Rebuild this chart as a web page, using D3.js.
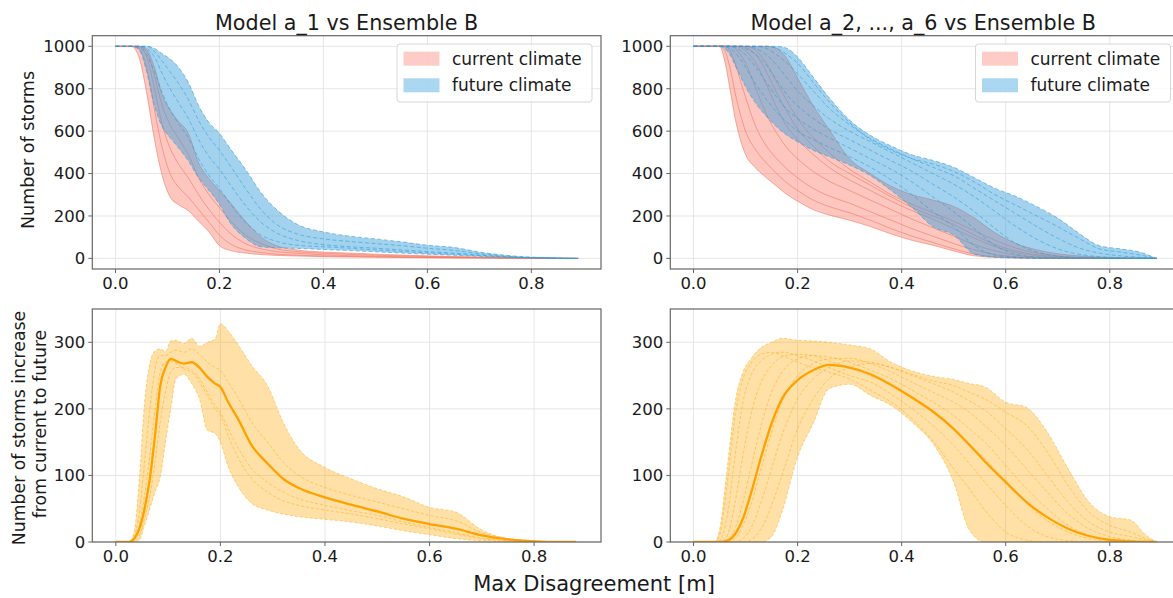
<!DOCTYPE html>
<html>
<head>
<meta charset="utf-8">
<script src="https://cdn.jsdelivr.net/npm/d3@7"></script>
<style>
  body { margin: 0; background: #fff; }
  svg { display: block; font-family: "DejaVu Sans", sans-serif; }
</style>
</head>
<body>
<div id="chart"></div>
<script>
// ---- data ----
const xTicks = [0, 0.2, 0.4, 0.6, 0.8];
const yTicksTop = [0, 200, 400, 600, 800, 1000];
const yTicksBottom = [0, 100, 200, 300];
const titles = ["Model a_1 vs Ensemble B", "Model a_2, ..., a_6 vs Ensemble B"];
const legendLabels = ["current climate", "future climate"];

// top left: model a_1
const xTL = [0, 0.03, 0.045, 0.06, 0.075, 0.09, 0.105, 0.12, 0.14, 0.16, 0.18, 0.2, 0.22, 0.25, 0.28, 0.31, 0.35, 0.4, 0.45, 0.5, 0.55, 0.6, 0.65, 0.7, 0.75, 0.8, 0.85, 0.89];
const curLowTL  = [1000,1000,950,780,560,390,290,255,225,175,125,60,38,25,18,14,11,8,6,5,4,3,2,2,1,1,0,0];
const curHighTL = [1000,1000,1000,985,900,770,700,650,590,450,375,320,265,175,100,60,40,30,25,20,16,12,9,6,4,2,1,0];
const curMembersTL = [
  [1000,1000,990,900,700,520,400,340,290,230,170,110,70,40,28,20,15,11,9,7,5,4,3,2,1,1,0,0],
  [1000,1000,1000,950,800,630,520,450,380,300,230,170,120,70,45,32,24,17,13,10,8,6,4,3,2,1,0,0],
  [1000,1000,1000,975,860,720,630,570,490,380,300,240,180,110,70,45,32,24,19,15,12,9,7,5,3,2,1,0]
];
const futLowTL  = [1000,1000,985,880,720,620,570,525,460,380,320,255,170,95,55,50,47,42,37,31,25,20,15,10,6,3,1,0];
const futHighTL = [1000,1000,1000,1000,990,965,940,905,830,720,640,590,520,420,310,230,160,125,105,92,78,62,52,30,15,6,2,0];
const futMembersTL = [
  [1000,1000,1000,990,950,870,800,740,660,560,480,420,350,250,170,120,85,65,55,48,40,32,25,16,8,3,1,0],
  [1000,1000,995,960,880,780,700,640,570,470,390,330,260,170,110,80,62,55,48,40,33,26,20,13,7,3,1,0],
  [1000,1000,1000,1000,975,930,880,830,750,650,570,510,440,330,230,160,115,92,80,70,60,48,38,22,11,4,1,0]
];

// top right: models a_2 ... a_6
const xTR = [0, 0.05, 0.06, 0.07, 0.08, 0.09, 0.1, 0.12, 0.14, 0.16, 0.18, 0.2, 0.23, 0.26, 0.3, 0.34, 0.38, 0.42, 0.46, 0.5, 0.54, 0.58, 0.62, 0.66, 0.7, 0.74, 0.78, 0.82, 0.86, 0.89];
const curLowTR  = [1000,1000,930,800,660,560,490,425,380,340,300,270,230,205,180,150,115,85,62,35,12,5,2,1,0,0,0,0,0,0];
const curHighTR = [1000,1000,1000,1000,1000,1000,1000,1000,1000,990,940,850,720,610,470,400,340,300,275,245,190,120,70,40,22,12,6,3,1,0];
const curMembersTR = [
  [1000,1000,980,900,780,680,600,510,450,400,355,320,275,245,215,180,140,105,75,45,20,8,3,1,0,0,0,0,0,0],
  [1000,1000,1000,980,920,840,760,620,530,470,420,380,330,295,260,220,180,140,105,70,40,18,8,3,1,0,0,0,0,0],
  [1000,1000,1000,1000,990,960,920,800,680,590,520,470,410,365,320,275,230,185,145,105,65,35,15,6,2,1,0,0,0,0],
  [1000,1000,1000,1000,1000,995,980,920,820,710,620,560,490,430,370,320,270,225,185,140,95,55,28,12,5,2,1,0,0,0],
  [1000,1000,1000,1000,1000,1000,995,960,880,780,690,610,530,460,400,345,290,240,200,160,110,65,35,17,8,3,1,0,0,0],
  [1000,1000,1000,1000,1000,1000,1000,980,920,830,740,660,570,500,420,360,300,255,215,175,130,85,48,25,12,5,2,1,0,0]
];
const futLowTR  = [1000,1000,990,960,910,860,810,730,670,620,580,550,510,480,440,390,320,240,150,110,20,5,2,0,0,0,0,0,0,0];
const futHighTR = [1000,1000,1000,1000,1000,1000,1000,1000,1000,1000,990,950,855,760,652,580,530,488,462,430,380,330,292,244,190,120,60,45,28,0];
const futMembersTR = [
  [1000,1000,1000,990,970,940,900,820,750,690,640,600,560,525,480,430,370,300,220,150,60,15,5,1,0,0,0,0,0,0],
  [1000,1000,1000,1000,995,980,960,900,830,760,700,660,610,570,520,470,420,360,290,220,140,60,20,6,2,0,0,0,0,0],
  [1000,1000,1000,1000,1000,1000,990,960,910,840,770,720,660,610,560,510,460,410,350,290,220,140,70,30,10,3,1,0,0,0],
  [1000,1000,1000,1000,1000,1000,1000,990,960,910,850,790,720,660,600,550,500,450,400,350,290,220,150,90,45,20,8,3,1,0],
  [1000,1000,1000,1000,1000,1000,1000,1000,990,960,920,870,790,710,630,565,515,470,430,390,330,270,210,150,95,50,25,12,5,0],
  [1000,1000,1000,1000,1000,1000,1000,1000,1000,990,960,920,830,740,640,560,510,470,445,410,360,300,250,200,150,95,45,30,15,0]
];

// bottom left: increase, model a_1
const xBL = [0, 0.025, 0.035, 0.045, 0.055, 0.065, 0.075, 0.085, 0.095, 0.105, 0.115, 0.13, 0.145, 0.16, 0.175, 0.19, 0.2, 0.215, 0.235, 0.26, 0.29, 0.32, 0.35, 0.4, 0.45, 0.5, 0.55, 0.6, 0.65, 0.7, 0.75, 0.8, 0.85, 0.88];
const incLowBL  = [0,0,0,3,25,50,75,98,150,200,245,252,238,215,168,163,150,113,82,58,48,42,38,34,30,24,17,11,5,2,1,0,0,0];
const incHighBL = [0,0,15,95,210,268,287,290,286,302,303,298,306,294,300,305,328,317,295,265,235,180,140,112,95,80,68,52,45,18,5,2,0,0];
const incMedBL  = [0,0,5,20,50,95,160,235,262,275,272,268,270,262,248,238,233,210,183,145,118,95,81,67,56,46,35,27,20,10,4,1,0,0];
const incMembersBL = [
  [0,0,8,45,120,200,260,280,280,285,288,285,290,282,270,262,258,240,215,180,150,120,100,82,70,60,50,40,32,14,5,1,0,0],
  [0,0,2,10,35,70,120,180,225,255,262,262,258,245,225,205,195,170,140,110,90,75,65,55,47,40,30,22,14,6,2,0,0,0],
  [0,0,4,25,70,130,200,255,270,272,268,260,255,240,220,200,190,160,125,95,75,62,55,48,42,35,27,20,12,5,2,0,0,0]
];

// bottom right: increase, models a_2 ... a_6
const xBR = [0, 0.04, 0.05, 0.065, 0.08, 0.095, 0.11, 0.13, 0.15, 0.17, 0.2, 0.23, 0.26, 0.3, 0.34, 0.38, 0.42, 0.46, 0.5, 0.53, 0.56, 0.6, 0.64, 0.68, 0.72, 0.76, 0.8, 0.84, 0.87, 0.89];
const incLowBR  = [0,0,0,0,0,0,0,0,8,45,128,178,230,237,220,205,180,148,90,18,0,0,0,0,0,0,0,0,0,0];
const incHighBR = [0,0,18,113,210,255,275,292,300,306,303,302,300,296,290,270,257,249,244,238,233,210,202,165,110,60,38,33,10,0];
const incMedBR  = [0,0,0,2,12,35,72,128,178,215,243,258,266,262,252,236,217,196,170,146,121,90,60,37,20,9,3,1,0,0];
const incMembersBR = [
  [0,0,10,90,190,245,268,282,285,280,270,262,255,245,228,210,185,152,110,80,48,15,3,0,0,0,0,0,0,0],
  [0,0,2,40,130,210,250,272,282,285,280,272,262,250,240,222,200,175,145,118,90,55,25,8,2,0,0,0,0,0],
  [0,0,0,10,60,130,190,240,265,278,282,280,272,262,250,235,215,195,170,148,125,90,58,32,15,5,1,0,0,0],
  [0,0,0,2,20,60,110,175,225,255,275,280,278,270,258,245,228,210,190,170,150,115,80,50,25,10,3,1,0,0],
  [0,0,0,0,5,25,55,110,165,210,250,268,275,276,268,255,240,225,210,195,175,145,110,75,42,20,8,3,1,0],
  [0,0,0,0,0,5,20,60,110,160,215,245,262,272,270,262,250,238,225,212,198,170,140,100,60,30,15,8,3,0],
  [0,0,0,0,0,0,3,20,55,100,170,215,245,262,268,262,252,242,235,225,215,195,175,135,85,45,25,15,5,0]
];

// ---- drawing ----
const width = 1173;
const height = 598;
const textColor = "#1a1a1a";
const frameColor = "#666";

const curStyle = { fill: "#fa8072", fillOpacity: 0.45, line: "#f0705c", lineOpacity: 0.6, dash: null };
const futStyle = { fill: "#3ca0dc", fillOpacity: 0.47, line: "#2a9ed8", lineOpacity: 0.65, dash: "4,2.5" };
const incStyle = { fill: "#ffa500", fillOpacity: 0.35, line: "#ffa500", lineOpacity: 0.5, dash: "3,2" };

const svg = d3.select("#chart").append("svg")
    .attr("width", width)
    .attr("height", height)
    .style("background", "#fff");

let clipId = 0;

function drawPanel(cfg) {
    const x = d3.scaleLinear().domain(cfg.xDomain).range([cfg.left, cfg.right]);
    const y = d3.scaleLinear().domain(cfg.yDomain).range([cfg.bottom, cfg.top]);
    const g = svg.append("g");

    const id = "clip" + (clipId++);
    svg.append("clipPath").attr("id", id).append("rect")
        .attr("x", cfg.left).attr("y", cfg.top)
        .attr("width", cfg.right - cfg.left).attr("height", cfg.bottom - cfg.top);

    // grid
    g.selectAll(".gx").data(xTicks).enter().append("line")
        .attr("x1", d => x(d)).attr("x2", d => x(d))
        .attr("y1", cfg.top).attr("y2", cfg.bottom)
        .attr("stroke", "#e3e3e3").attr("stroke-width", 0.9);
    g.selectAll(".gy").data(cfg.yTicks).enter().append("line")
        .attr("x1", cfg.left).attr("x2", cfg.right)
        .attr("y1", d => y(d)).attr("y2", d => y(d))
        .attr("stroke", "#e3e3e3").attr("stroke-width", 0.9);

    const plot = g.append("g").attr("clip-path", `url(#${id})`);

    cfg.bands.forEach(b => {
        const xs = b.xs;
        const area = d3.area()
            .x((d, i) => x(xs[i]))
            .y0(d => y(d[0]))
            .y1(d => y(d[1]))
            .curve(d3.curveMonotoneX);
        plot.append("path")
            .datum(xs.map((v, i) => [b.low[i], b.high[i]]))
            .attr("d", area)
            .attr("fill", b.style.fill)
            .attr("fill-opacity", b.style.fillOpacity);

        const line = d3.line()
            .x((d, i) => x(xs[i]))
            .y(d => y(d))
            .curve(d3.curveMonotoneX);
        [b.low, b.high].concat(b.members).forEach(m => {
            plot.append("path")
                .attr("d", line(m))
                .attr("fill", "none")
                .attr("stroke", b.style.line)
                .attr("stroke-opacity", b.style.lineOpacity)
                .attr("stroke-width", 0.9)
                .attr("stroke-dasharray", b.style.dash);
        });
        if (b.median) {
            plot.append("path")
                .attr("d", line(b.median))
                .attr("fill", "none")
                .attr("stroke", "#ffa200")
                .attr("stroke-width", 2.3);
        }
    });

    // frame
    g.append("rect")
        .attr("x", cfg.left).attr("y", cfg.top)
        .attr("width", cfg.right - cfg.left).attr("height", cfg.bottom - cfg.top)
        .attr("fill", "none").attr("stroke", frameColor).attr("stroke-width", 1.2);

    // ticks + labels
    xTicks.forEach(t => {
        g.append("line").attr("x1", x(t)).attr("x2", x(t))
            .attr("y1", cfg.bottom).attr("y2", cfg.bottom + 4)
            .attr("stroke", frameColor).attr("stroke-width", 1);
        g.append("text").attr("x", x(t)).attr("y", cfg.bottom + 20)
            .attr("text-anchor", "middle")
            .attr("font-size", "16.5px").attr("fill", textColor)
            .text(d3.format(".1f")(t));
    });
    cfg.yTicks.forEach(t => {
        g.append("line").attr("x1", cfg.left - 4).attr("x2", cfg.left)
            .attr("y1", y(t)).attr("y2", y(t))
            .attr("stroke", frameColor).attr("stroke-width", 1);
        g.append("text").attr("x", cfg.left - 7).attr("y", y(t))
            .attr("dy", "0.36em")
            .attr("text-anchor", "end")
            .attr("font-size", "16.5px").attr("fill", textColor)
            .text(t);
    });

    if (cfg.title) {
        g.append("text").attr("x", (cfg.left + Math.min(cfg.right, 1170)) / 2 + (cfg.right > width ? 3 : 0))
            .attr("y", 30)
            .attr("text-anchor", "middle")
            .attr("font-size", "20.7px").attr("fill", textColor)
            .text(cfg.title);
    }

    if (cfg.legend) {
        const bx = cfg.right - 9 - 195;
        const by = 44;
        const lg = g.append("g");
        lg.append("rect").attr("x", bx).attr("y", by)
            .attr("width", 195).attr("height", 58).attr("rx", 3)
            .attr("fill", "#fff").attr("fill-opacity", 0.85)
            .attr("stroke", "#d6d6d6").attr("stroke-width", 1);
        [curStyle, futStyle].forEach((s, i) => {
            lg.append("rect").attr("x", bx + 6.5).attr("y", by + 7.7 + i * 26.6)
                .attr("width", 36).attr("height", 14)
                .attr("fill", s.fill).attr("fill-opacity", s.fillOpacity * 0.9);
            lg.append("text").attr("x", bx + 55).attr("y", by + 20.7 + i * 26.6)
                .attr("font-size", "17px").attr("fill", textColor)
                .text(legendLabels[i]);
        });
    }
}

const topY = { top: 35.7, bottom: 269, yDomain: [-50, 1050], yTicks: yTicksTop };
const botY = { top: 309, bottom: 542, yDomain: [0, 350], yTicks: yTicksBottom };
const leftX = { left: 92.3, right: 601 };
const rightX = { left: 670.3, right: 1179.5 };

drawPanel(Object.assign({}, topY, leftX, {
    xDomain: [-0.0446, 0.934], title: titles[0], legend: true,
    bands: [
        { xs: xTL, low: curLowTL, high: curHighTL, members: curMembersTL, style: curStyle },
        { xs: xTL, low: futLowTL, high: futHighTL, members: futMembersTL, style: futStyle }
    ]
}));
drawPanel(Object.assign({}, topY, rightX, {
    xDomain: [-0.0446, 0.934], title: titles[1], legend: true,
    bands: [
        { xs: xTR, low: curLowTR, high: curHighTR, members: curMembersTR, style: curStyle },
        { xs: xTR, low: futLowTR, high: futHighTR, members: futMembersTR, style: futStyle }
    ]
}));
drawPanel(Object.assign({}, botY, leftX, {
    xDomain: [-0.045, 0.928],
    bands: [
        { xs: xBL, low: incLowBL, high: incHighBL, members: incMembersBL, median: incMedBL, style: incStyle }
    ]
}));
drawPanel(Object.assign({}, botY, rightX, {
    xDomain: [-0.0446, 0.934],
    bands: [
        { xs: xBR, low: incLowBR, high: incHighBR, members: incMembersBR, median: incMedBR, style: incStyle }
    ]
}));

// axis labels
svg.append("text")
    .attr("transform", "translate(34,150) rotate(-90)")
    .attr("text-anchor", "middle")
    .attr("font-size", "17.5px").attr("fill", textColor)
    .text("Number of storms");
svg.append("text")
    .attr("transform", "translate(25,428) rotate(-90)")
    .attr("text-anchor", "middle")
    .attr("font-size", "17.3px").attr("fill", textColor)
    .text("Number of storms increase");
svg.append("text")
    .attr("transform", "translate(46,424) rotate(-90)")
    .attr("text-anchor", "middle")
    .attr("font-size", "17.3px").attr("fill", textColor)
    .text("from current to future");
svg.append("text")
    .attr("x", 594).attr("y", 591)
    .attr("text-anchor", "middle")
    .attr("font-size", "21px").attr("fill", textColor)
    .text("Max Disagreement [m]");
</script>
</body>
</html>
